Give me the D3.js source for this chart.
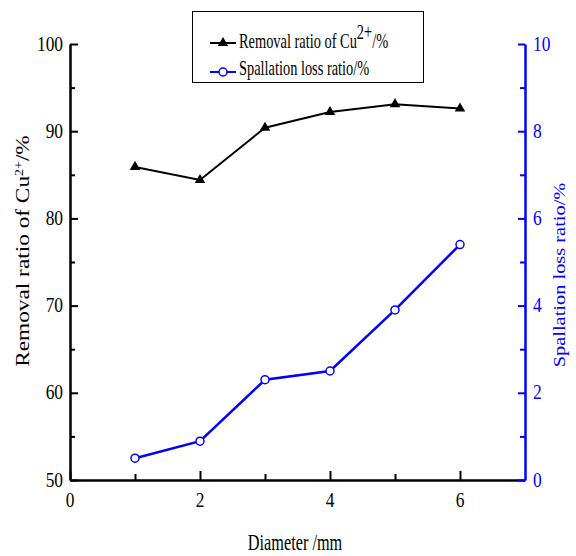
<!DOCTYPE html>
<html>
<head>
<meta charset="utf-8">
<script src="https://cdn.jsdelivr.net/npm/d3@7"></script>
</head>
<body style="margin:0;background:#fff">
<div id="chart"></div>
<script>
// Data
const diameter = [1, 2, 3, 4, 5, 6];
const removal = [85.9, 84.4, 90.4, 92.2, 93.1, 92.6];
const spallation = [0.5, 0.89, 2.3, 2.5, 3.9, 5.4];

const xMajor = [0, 2, 4, 6];
const xMinor = [1, 3, 5];
const yLeftMajor = [50, 60, 70, 80, 90, 100];
const yLeftMinor = [55, 65, 75, 85, 95];
const yRightMajor = [0, 2, 4, 6, 8, 10];
const yRightMinor = [1, 3, 5, 7, 9];

const W = 576, H = 556;
const BLUE = '#0000ff';
const FONT = '"Liberation Serif", "Times New Roman", serif';

const svg = d3.select('#chart').append('svg')
  .attr('width', W)
  .attr('height', H);

const x = d3.scaleLinear().domain([0, 7]).range([70, 525]);
const yL = d3.scaleLinear().domain([50, 100]).range([480, 44]);
const yR = d3.scaleLinear().domain([0, 10]).range([480, 44]);

// condensed serif text helper
function label(parent, px, py, str, o) {
  const t = parent.append('text')
    .attr('transform', `translate(${px},${py}) scale(${o.sx || 0.78},1)` + (o.rot ? ` rotate(${o.rot})` : ''))
    .attr('text-anchor', o.anchor || 'start')
    .style('font-family', FONT)
    .style('font-size', o.size + 'px')
    .style('fill', o.fill || '#000');
  if (o.dy) t.attr('dy', o.dy);
  t.text(str);
  return t;
}

function styleAxis(sel, color, width) {
  sel.selectAll('path.domain').attr('stroke', color).attr('stroke-width', width);
  sel.selectAll('.tick line').attr('stroke', color).attr('stroke-width', 2);
}

// bottom axis
const gx = svg.append('g').attr('transform', `translate(0,${yL(50)})`);
gx.call(d3.axisBottom(x).tickValues(xMajor).tickSizeInner(-9).tickSizeOuter(0).tickFormat(''));
styleAxis(gx, '#000', 2.5);
const gxm = svg.append('g').attr('transform', `translate(0,${yL(50)})`);
gxm.call(d3.axisBottom(x).tickValues(xMinor).tickSizeInner(-6).tickSizeOuter(0).tickFormat(''));
gxm.select('path.domain').remove();
styleAxis(gxm, '#000', 2);
xMajor.forEach(v => label(svg, x(v), 507, String(v), { size: 22, sx: 0.79, anchor: 'middle' }));

// left axis
const gl = svg.append('g').attr('transform', `translate(${x(0)},0)`);
gl.call(d3.axisLeft(yL).tickValues(yLeftMajor).tickSizeInner(-8).tickSizeOuter(0).tickFormat(''));
styleAxis(gl, '#000', 2.5);
const glm = svg.append('g').attr('transform', `translate(${x(0)},0)`);
glm.call(d3.axisLeft(yL).tickValues(yLeftMinor).tickSizeInner(-5).tickSizeOuter(0).tickFormat(''));
glm.select('path.domain').remove();
styleAxis(glm, '#000', 2);
yLeftMajor.forEach(v => label(svg, 63, yL(v), String(v), { size: 22, sx: 0.79, anchor: 'end', dy: '0.3em' }));

// right axis
const gr = svg.append('g').attr('transform', `translate(${x(7)},0)`);
gr.call(d3.axisRight(yR).tickValues(yRightMajor).tickSizeInner(-7).tickSizeOuter(0).tickFormat(''));
styleAxis(gr, BLUE, 2.5);
const grm = svg.append('g').attr('transform', `translate(${x(7)},0)`);
grm.call(d3.axisRight(yR).tickValues(yRightMinor).tickSizeInner(-5).tickSizeOuter(0).tickFormat(''));
grm.select('path.domain').remove();
styleAxis(grm, BLUE, 2);
yRightMajor.forEach(v => label(svg, 533, yR(v), String(v), { size: 22, sx: 0.79, fill: BLUE, dy: '0.3em' }));

// axis titles
label(svg, 295, 550, 'Diameter /mm', { size: 22.6, sx: 0.72, anchor: 'middle' });

const lt = label(svg, 29, 251, '', { size: 23.3, sx: 0.82, rot: -90, anchor: 'middle' });
lt.append('tspan').text('Removal ratio of Cu');
lt.append('tspan').attr('dy', '-0.5em').style('font-size', '0.6em').text('2+');
lt.append('tspan').attr('dy', '0.3em').text('/%');

label(svg, 565, 275, 'Spallation loss ratio/%', { size: 20.4, sx: 0.8, rot: -90, anchor: 'middle', fill: BLUE });

// series
const lineL = d3.line().x((d, i) => x(diameter[i])).y(d => yL(d));
const lineR = d3.line().x((d, i) => x(diameter[i])).y(d => yR(d));

svg.append('path').datum(removal)
  .attr('d', lineL).attr('fill', 'none').attr('stroke', '#000').attr('stroke-width', 2);
svg.append('path').datum(spallation)
  .attr('d', lineR).attr('fill', 'none').attr('stroke', BLUE).attr('stroke-width', 2.5);

const tri = d3.symbol().type(d3.symbolTriangle).size(48);
svg.selectAll('path.tri').data(removal).join('path')
  .attr('class', 'tri')
  .attr('d', tri)
  .attr('transform', (d, i) => `translate(${x(diameter[i])},${yL(d)})`)
  .attr('fill', '#000');

svg.selectAll('circle.pt').data(spallation).join('circle')
  .attr('class', 'pt')
  .attr('cx', (d, i) => x(diameter[i]))
  .attr('cy', d => yR(d))
  .attr('r', 4)
  .attr('fill', '#fff')
  .attr('stroke', BLUE)
  .attr('stroke-width', 1.5);

// legend
const lg = svg.append('g');
lg.append('rect')
  .attr('x', 192.5).attr('y', 11.5).attr('width', 231).attr('height', 71)
  .attr('fill', '#fff').attr('stroke', '#000').attr('stroke-width', 1);

lg.append('line').attr('x1', 210).attr('x2', 236).attr('y1', 43).attr('y2', 43)
  .attr('stroke', '#000').attr('stroke-width', 2);
lg.append('path').attr('d', tri).attr('transform', 'translate(223,43)').attr('fill', '#000');
const l1 = label(lg, 239, 48, '', { size: 20, sx: 0.72 });
l1.append('tspan').text('Removal ratio of Cu');
l1.append('tspan').attr('dy', -9).text('2+');
l1.append('tspan').attr('dy', 9).text('/%');

lg.append('line').attr('x1', 210).attr('x2', 236).attr('y1', 72).attr('y2', 72)
  .attr('stroke', BLUE).attr('stroke-width', 2);
lg.append('circle').attr('cx', 223).attr('cy', 72).attr('r', 4)
  .attr('fill', '#fff').attr('stroke', BLUE).attr('stroke-width', 1.5);
label(lg, 239, 75, 'Spallation loss ratio/%', { size: 20, sx: 0.72 });
</script>
</body>
</html>
